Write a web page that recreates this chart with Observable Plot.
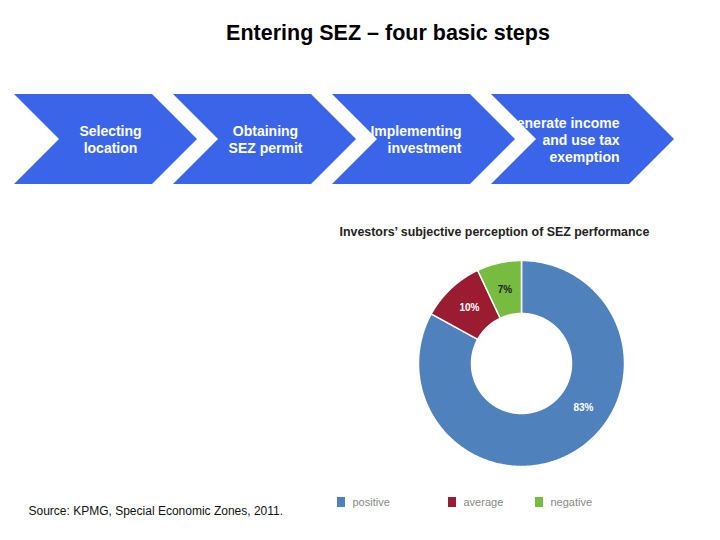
<!DOCTYPE html>
<html>
<head>
<meta charset="utf-8">
<script src="https://cdn.jsdelivr.net/npm/d3@7"></script>
<script src="https://cdn.jsdelivr.net/npm/@observablehq/plot@0.6"></script>
<style>
  html, body { margin: 0; padding: 0; background: #fff; }
  body { width: 720px; height: 540px; overflow: hidden; font-family: "Liberation Sans", Arial, sans-serif; }
  #title { height: 62px; width: 776px; text-align: center; font-weight: bold; font-size: 21.5px; line-height: 22px; padding-top: 22px; box-sizing: border-box; color: #000; }
</style>
</head>
<body>
<div id="title">Entering SEZ – four basic steps</div>
<div id="chart"></div>
<script>
// ---- data ----
const steps = ["Selecting\nlocation", "Obtaining\nSEZ permit", "Implementing\ninvestment", "Generate income\nand use tax\nexemption"];
const donutTitle = "Investors\u2019 subjective perception of SEZ performance";
const categories = ["positive", "average", "negative"];
const shares = [83, 10, 7];
const shareLabels = ["83%", "10%", "7%"];
const sourceText = "Source: KPMG, Special Economic Zones, 2011.";

// ---- layout / styles ----
const W = 720, TOP = 62, H = 540 - TOP;
const blue = "#3b65e8";
const sliceColors = ["#4f81bd", "#9b1c31", "#77bb41"];
const chev = {x0: 14, pitch: 159, notch: 45, body: 138, top: 94, bottom: 184};
const stepTextX = [110, 265, 461, 619];
const stepAnchor = ["middle", "middle", "end", "end"];
const donut = {cx: 521, cy: 363, r0: 50, r1: 103};
const labelFrac = [0.42, 0.5, 0.5];
const labelR = 76;
const legendX = [337, 448, 535];

// chevron polygons from step index
const midY = (chev.top + chev.bottom) / 2;
const chevRows = steps.flatMap((s, i) => {
  const x0 = chev.x0 + i * chev.pitch;
  return [
    {step: i, y: chev.top, x1: x0, x2: x0 + chev.body},
    {step: i, y: midY, x1: x0 + chev.notch, x2: x0 + chev.body + chev.notch},
    {step: i, y: chev.bottom, x1: x0, x2: x0 + chev.body}
  ];
});
const stepRows = steps.map((s, i) => ({i, text: s, x: stepTextX[i], y: midY, anchor: stepAnchor[i]}));

// donut from the shares
const pie = d3.pie().sort(null).value(d => d.v)(categories.map((k, i) => ({k, v: shares[i], i})));
const slicePts = pie.flatMap(p => {
  const n = Math.max(2, Math.ceil((p.endAngle - p.startAngle) / 0.01));
  const pts = [];
  for (let j = 0; j <= n; j++) {
    const a = p.startAngle + (p.endAngle - p.startAngle) * j / n;
    pts.push({k: p.data.k, x: donut.cx + donut.r1 * Math.sin(a), y: donut.cy - donut.r1 * Math.cos(a)});
  }
  for (let j = n; j >= 0; j--) {
    const a = p.startAngle + (p.endAngle - p.startAngle) * j / n;
    pts.push({k: p.data.k, x: donut.cx + donut.r0 * Math.sin(a), y: donut.cy - donut.r0 * Math.cos(a)});
  }
  pts.push({...pts[0]});
  return pts;
});
const labelRows = pie.map(p => {
  const i = p.data.i;
  const a = p.startAngle + (p.endAngle - p.startAngle) * labelFrac[i];
  return {i, text: shareLabels[i], x: donut.cx + labelR * Math.sin(a), y: donut.cy - labelR * Math.cos(a)};
});
const legendRows = categories.map((k, i) => ({k, x: legendX[i]}));

const font = "Liberation Sans, Arial, sans-serif";

const chart = Plot.plot({
  width: W, height: H,
  margin: 0,
  style: {fontFamily: font, background: "white", overflow: "visible"},
  x: {domain: [0, W], range: [0, W], axis: null},
  y: {domain: [TOP, 540], range: [0, H], axis: null},
  color: {domain: categories, range: sliceColors},
  marks: [
    Plot.areaX(chevRows, {y: "y", x1: "x1", x2: "x2", z: "step", fill: blue, curve: "linear"}),
    Plot.text(stepRows.filter(d => d.anchor === "middle"), {x: "x", y: "y", text: "text", textAnchor: "middle", lineAnchor: "middle", lineHeight: 1.21, fill: "white", fontSize: 14, fontWeight: "bold"}),
    Plot.text(stepRows.filter(d => d.anchor === "end"), {x: "x", y: "y", text: "text", textAnchor: "end", lineAnchor: "middle", lineHeight: 1.21, fill: "white", fontSize: 14, fontWeight: "bold"}),
    Plot.text([donutTitle], {x: 339, y: 232, text: d => d, textAnchor: "start", fill: "#222", fontSize: 12.4, fontWeight: "bold"}),
    Plot.line(slicePts, {x: "x", y: "y", z: "k", fill: "k", stroke: "white", strokeWidth: 1.5, curve: "linear"}),
    Plot.text(labelRows.filter(d => d.i === 2), {x: "x", y: "y", text: "text", fill: "#222", fontSize: 10, fontWeight: "bold"}),
    Plot.text(labelRows.filter(d => d.i !== 2), {x: "x", y: "y", text: "text", fill: "white", fontSize: 10, fontWeight: "bold"}),
    Plot.rect(legendRows, {x1: d => d.x, x2: d => d.x + 8, y1: 497, y2: 507, fill: "k"}),
    Plot.text(legendRows, {x: d => d.x + 15, y: 502, text: "k", textAnchor: "start", fill: "#888", fontSize: 11}),
    Plot.text([sourceText], {x: 28, y: 511, text: d => d, textAnchor: "start", fill: "#111", fontSize: 12})
  ]
});
document.getElementById("chart").appendChild(chart);
</script>
</body>
</html>
